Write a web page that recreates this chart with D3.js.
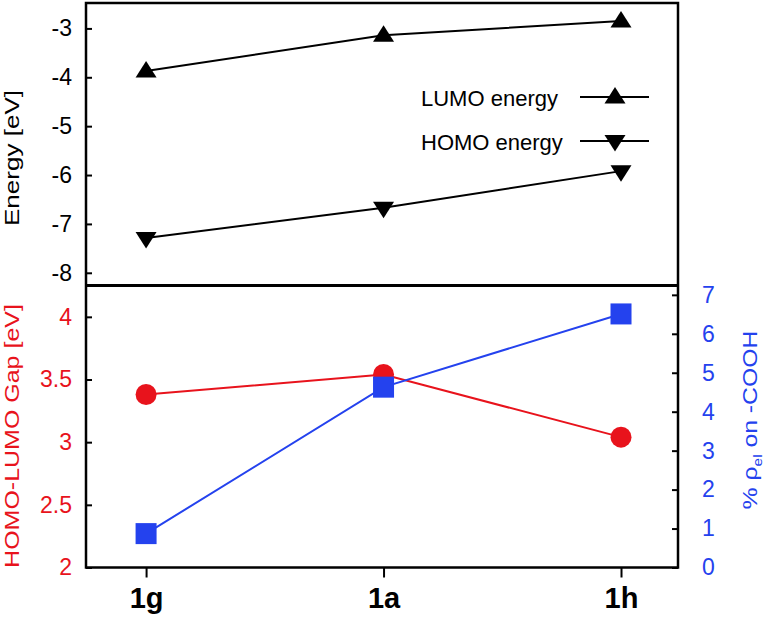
<!DOCTYPE html>
<html>
<head>
<meta charset="utf-8">
<script src="https://cdn.jsdelivr.net/npm/d3@7"></script>
<style>
  html, body { margin: 0; padding: 0; background: #fff; }
  svg { display: block; }
  text { font-family: "Liberation Sans", Arial, Helvetica, sans-serif; }
</style>
</head>
<body>
<svg id="chart" width="768" height="619"></svg>
<script>
// ---- data ----
const categories = ["1g", "1a", "1h"];
const lumoEnergy = [-3.87, -3.14, -2.85];
const homoEnergy = [-7.29, -6.67, -5.92];
const gapValues = [3.38, 3.54, 3.04];
const rhoCOOH = [0.87, 4.63, 6.51];
const energyTicks = [-3, -4, -5, -6, -7, -8];
const gapTicks = [2, 2.5, 3, 3.5, 4];
const rhoTicks = [0, 1, 2, 3, 4, 5, 6, 7];
const legendLabels = ["LUMO energy", "HOMO energy"];

// ---- layout ----
const RED = "#e8131c", BLUE = "#2442ee";
const L = 86, R = 678, TOP = 3, MID = 285.5, BOT = 567.5;
const svg = d3.select("#chart");

const x = d3.scaleLinear().domain([-0.253, 2.24]).range([L, R]);
const yE = d3.scaleLinear().domain([-8.26, -2.48]).range([MID, TOP]);
const yG = d3.scaleLinear().domain([2, 4.25]).range([BOT, MID]);
const yR = d3.scaleLinear().domain([0, 7.24]).range([BOT, MID]);

const idx = categories.map((c, i) => i);

// ---- axes ----
const axE = svg.append("g").attr("transform", `translate(${L},0)`)
  .call(d3.axisLeft(yE).tickValues(energyTicks).tickSize(-6).tickPadding(14).tickFormat(d => d));
const axG = svg.append("g").attr("transform", `translate(${L},0)`)
  .call(d3.axisLeft(yG).tickValues(gapTicks).tickSize(-6).tickPadding(14).tickFormat(d => d));
const axR = svg.append("g").attr("transform", `translate(${R},0)`)
  .call(d3.axisRight(yR).tickValues(rhoTicks).tickSize(-6).tickPadding(24).tickFormat(d => d));
const axX = svg.append("g").attr("transform", `translate(0,${BOT})`)
  .call(d3.axisBottom(x).tickValues(idx).tickSize(10).tickPadding(10).tickFormat(i => categories[i]));

[axE, axG, axR, axX].forEach(a => {
  a.select(".domain").remove();
  a.selectAll(".tick line").attr("stroke", "#000").attr("stroke-width", 2);
  a.selectAll("text").attr("font-size", 23).attr("fill", "#000")
    .attr("font-family", "'Liberation Sans', Arial, sans-serif");
});
axG.selectAll("text").attr("fill", RED);
axR.selectAll("text").attr("fill", BLUE);
axX.selectAll("text").attr("font-size", 29).attr("font-weight", "bold");

// ---- frames ----
svg.append("rect").attr("x", L).attr("y", TOP).attr("width", R - L).attr("height", BOT - TOP)
  .attr("fill", "none").attr("stroke", "#000").attr("stroke-width", 2.5);
svg.append("line").attr("x1", L).attr("x2", R).attr("y1", MID).attr("y2", MID)
  .attr("stroke", "#000").attr("stroke-width", 2.8);

// ---- markers ----
function triUp(cx, cy) {
  return `M${cx},${cy - 10} L${cx + 10.5},${cy + 6.5} L${cx - 10.5},${cy + 6.5} Z`;
}
function triDown(cx, cy) {
  return `M${cx},${cy + 10.5} L${cx + 10.5},${cy - 6} L${cx - 10.5},${cy - 6} Z`;
}

// ---- series ----
function drawSeries(vals, yScale, color, marker) {
  const line = d3.line().x((d, i) => x(i)).y(d => yScale(d));
  svg.append("path").datum(vals).attr("d", line)
    .attr("fill", "none").attr("stroke", color).attr("stroke-width", 2);
  const g = svg.append("g");
  vals.forEach((v, i) => {
    const cx = x(i), cy = yScale(v);
    if (marker === "up") g.append("path").attr("d", triUp(cx, cy)).attr("fill", color);
    else if (marker === "down") g.append("path").attr("d", triDown(cx, cy)).attr("fill", color);
    else if (marker === "circle") g.append("circle").attr("cx", cx).attr("cy", cy).attr("r", 10.5).attr("fill", color);
    else if (marker === "square") g.append("rect").attr("x", cx - 10.5).attr("y", cy - 10.5)
      .attr("width", 21).attr("height", 21).attr("fill", color);
  });
}
drawSeries(lumoEnergy, yE, "#000", "up");
drawSeries(homoEnergy, yE, "#000", "down");
drawSeries(gapValues, yG, RED, "circle");
drawSeries(rhoCOOH, yR, BLUE, "square");

// ---- legend ----
const legY = [97, 141];
legendLabels.forEach((lab, i) => {
  svg.append("text").attr("x", 421).attr("y", legY[i] + 9).attr("font-size", 22).attr("fill", "#000").text(lab);
  svg.append("line").attr("x1", 580).attr("x2", 649).attr("y1", legY[i]).attr("y2", legY[i])
    .attr("stroke", "#000").attr("stroke-width", 2);
  svg.append("path").attr("d", i === 0 ? triUp(615, legY[i]) : triDown(615, legY[i])).attr("fill", "#000");
});

// ---- axis titles ----
svg.append("text").attr("transform", "translate(19,158) rotate(-90) scale(1.24,1)")
  .attr("text-anchor", "middle").attr("font-size", 21).attr("fill", "#000").text("Energy [eV]");
svg.append("text").attr("transform", "translate(19,436) rotate(-90) scale(1.19,1)")
  .attr("text-anchor", "middle").attr("font-size", 21).attr("fill", RED).text("HOMO-LUMO Gap [eV]");
const rt = svg.append("text").attr("transform", "translate(757,420) rotate(-90) scale(1.18,1)")
  .attr("text-anchor", "middle").attr("font-size", 21).attr("fill", BLUE);
rt.append("tspan").text("% ρ");
rt.append("tspan").attr("font-size", 13).attr("dy", 5).text("el");
rt.append("tspan").attr("dy", -5).text(" on -COOH");
</script>
</body>
</html>
